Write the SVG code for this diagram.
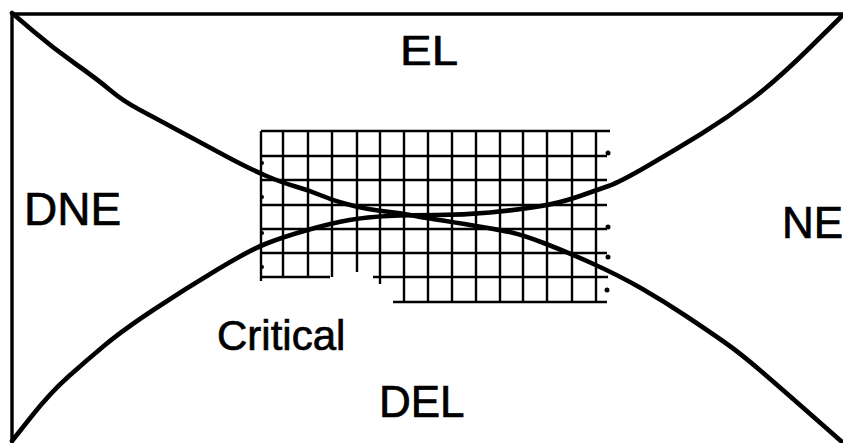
<svg xmlns="http://www.w3.org/2000/svg" width="843" height="443" viewBox="0 0 843 443">
<style>
  .frame { fill: none; stroke: #000; stroke-width: 3.4; stroke-linecap: square; }
  .grid { fill: none; stroke: #000; stroke-width: 2.4; stroke-linecap: butt; }
  .curve { fill: none; stroke: #000; stroke-width: 4.6; stroke-linejoin: round; stroke-linecap: round; }
  .dot { fill: #000; }
  .lbl { font-family: "Liberation Sans", Arial, Helvetica, sans-serif; fill: #000; stroke: #000; stroke-width: 0.7; }
</style>
<rect x="0" y="0" width="843" height="443" fill="#fff"/>
<g id="frame">
  <path class="frame" d="M12,14 L843,14 M12,14 L12,441"/>
</g>
<g id="grid">
  <path class="grid" d="M261,131 L610,131 M261,156 L607,156 M261,180 L607,180 M261,205 L607,205 M261,229 L607,229 M261,253 L607,253 M261,277 L330,277 M373,277 L608,277 M393,302 L607,302"/>
  <path class="grid" d="M261,131 L261,281 M283,131 L283,277 M308,131 L308,277 M332,131 L332,277 M357,131 L357,272 M380,131 L380,284 M404,131 L404,302 M428,131 L428,302 M452,131 L452,302 M476,131 L476,302 M500,131 L500,302 M523,131 L523,302 M547,131 L547,302 M572,131 L572,302 M596,131 L596,302"/>
  <circle class="dot" cx="608" cy="153" r="2.5"/>
  <circle class="dot" cx="608" cy="227" r="2.5"/>
  <circle class="dot" cx="608" cy="257" r="2.5"/>
  <circle class="dot" cx="607" cy="290" r="2.5"/>
  <circle class="dot" cx="262" cy="163" r="2"/>
  <circle class="dot" cx="262" cy="197" r="2"/>
  <circle class="dot" cx="262" cy="233" r="2"/>
  <circle class="dot" cx="262" cy="267" r="2"/>
</g>
<g id="curves">
  <path id="curve-el-ne" class="curve" d="M12,13 L32.5,30.5 Q53,48 75,63.5 Q97,79 110,90 Q123,101 140,110 Q157,119 181,132 Q205,145 227.5,157 Q250,169 266.5,176 Q283,183 295.5,186.5 Q308,190 320,195 Q332,200 344.5,203.5 Q357,207 368.5,209 Q380,211 390,212 Q400,213 410,215 Q420,217 436,219.5 Q452,222 476,226 Q500,230 511.5,232.5 Q523,235 545,243.5 Q567,252 593.5,264 Q620,276 642.5,289 Q665,302 686,316 Q707,330 723.5,341.5 Q740,353 761.5,371.5 Q783,390 812.5,416 L842,442"/>
  <path id="curve-del-dne" class="curve" d="M12,441 L31,417 Q50,393 68.5,376.5 Q87,360 105,345 Q123,330 154,309.5 Q185,289 217.5,269.5 Q250,250 266.5,243.5 Q283,237 307.5,230 Q332,223 349.5,220 Q367,217 388.5,216 Q410,215 436.5,215 Q463,215 490,212.5 Q517,210 538.5,206.5 Q560,203 578.5,196.5 Q597,190 608.5,186 Q620,182 647.5,166 Q675,150 701,134 Q727,118 752,99 Q777,80 809.5,48 L842,16"/>
</g>
<g id="labels">
  <text class="lbl" x="400" y="65" font-size="42" textLength="58" lengthAdjust="spacingAndGlyphs">EL</text>
  <text class="lbl" x="24" y="225" font-size="46">DNE</text>
  <text class="lbl" x="782" y="238" font-size="44">NE</text>
  <text class="lbl" x="217" y="350" font-size="42">Critical</text>
  <text class="lbl" x="379" y="417" font-size="44">DEL</text>
</g>
</svg>
